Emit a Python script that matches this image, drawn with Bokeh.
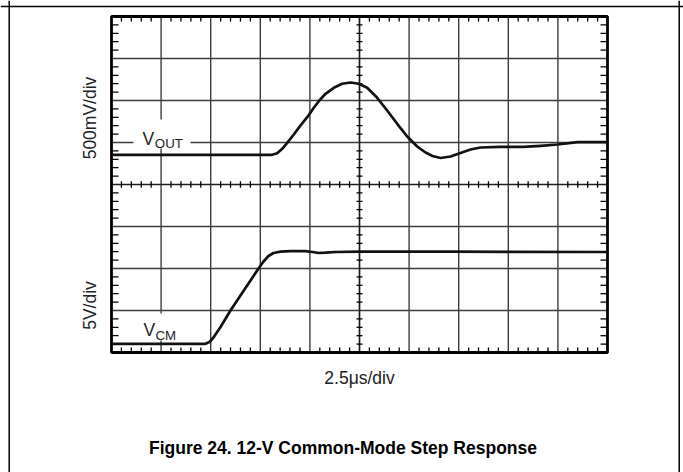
import numpy as np
from bokeh.plotting import figure
from bokeh.models import Range1d
from bokeh.core.properties import value
from bokeh.embed import file_html
from bokeh.resources import INLINE

# ---- data, in graticule divisions (x: 2.5 us/div, 10 div; y: 8 div) ----
vout_t = [0.0, 3.240, 3.341, 3.442, 3.542, 3.675, 3.810, 3.946, 4.079, 4.179,
          4.315, 4.482, 4.651, 4.819, 4.986, 5.155, 5.357, 5.558, 5.760, 5.962,
          6.163, 6.331, 6.472, 6.633, 6.835, 7.036, 7.238, 7.440, 7.843, 8.306,
          8.649, 8.992, 9.395, 10.0]
vout_v = [4.707, 4.707, 4.745, 4.850, 4.993, 5.190, 5.405, 5.602, 5.826, 5.983,
          6.160, 6.302, 6.398, 6.429, 6.398, 6.302, 6.064, 5.762, 5.445, 5.143,
          4.905, 4.762, 4.679, 4.631, 4.667, 4.750, 4.833, 4.881, 4.898, 4.898,
          4.921, 4.952, 5.007, 5.007]

vcm_t = [0.0, 1.895, 1.976, 2.056, 2.198, 2.399, 2.540, 2.681, 2.823, 2.964,
         3.065, 3.165, 3.266, 3.407, 3.609, 3.911, 4.052, 4.173, 4.315, 4.516,
         5.020, 6.835, 10.0]
vcm_v = [0.207, 0.207, 0.250, 0.357, 0.607, 1.000, 1.250, 1.500, 1.750, 2.000,
         2.167, 2.298, 2.369, 2.400, 2.412, 2.412, 2.393, 2.369, 2.376, 2.393,
         2.400, 2.400, 2.393]

x_divs = list(range(0, 11))
y_divs = list(range(0, 9))
minor_per_div = 5

label_top = "500mV/div"
label_bottom = "5V/div"
label_x = "2.5\u03bcs/div"
title_text = "Figure 24. 12-V Common-Mode Step Response"

# ---- layout (canvas pixels) ----
W, H = 683, 472
GX0, GX1 = 111.0, 607.0
GY0, GY1 = 16.0, 352.0
NX, NY = x_divs[-1], y_divs[-1]
sx = (GX1 - GX0) / NX
sy = (GY1 - GY0) / NY


def X(px):
    return (px - GX0) / sx


def Y(py):
    return NY - (py - GY0) / sy


p = figure(width=W, height=H, output_backend="svg", toolbar_location=None,
           x_range=Range1d(X(0), X(W)), y_range=Range1d(Y(H), Y(0)),
           x_axis_location=None, y_axis_location=None, min_border=0)
p.grid.visible = False
p.outline_line_color = None
p.background_fill_color = "white"
p.border_fill_color = "white"

FONT = value("Liberation Sans")

# page frame lines
p.segment(x0=[X(8.7), X(678.7), X(0)], y0=[Y(0), Y(0), Y(6)],
          x1=[X(8.7), X(678.7), X(W)], y1=[Y(H), Y(H), Y(6)],
          line_color="black", line_width=1.5)

# grid lines
inner_x = [v for v in x_divs[1:-1] if v != NX / 2]
inner_y = [v for v in y_divs[1:-1] if v != NY / 2]
p.segment(x0=inner_x, y0=[0] * len(inner_x), x1=inner_x, y1=[NY] * len(inner_x),
          line_color="#3c3c3c", line_width=1.4)
p.segment(x0=[0] * len(inner_y), y0=inner_y, x1=[NX] * len(inner_y), y1=inner_y,
          line_color="#3c3c3c", line_width=1.4)
# centre lines
p.segment(x0=[NX / 2, 0], y0=[0, NY / 2], x1=[NX / 2, NX], y1=[NY, NY / 2],
          line_color="#1e1e1e", line_width=1.7)

# white boxes behind trace labels
p.quad(left=[X(133), X(136)], right=[X(190), X(188)],
       top=[Y(119), Y(313)], bottom=[Y(148), Y(340)],
       fill_color="white", line_color=None)

# minor ticks
mx = [i / minor_per_div for i in range(NX * minor_per_div + 1) if i % minor_per_div]
my = [i / minor_per_div for i in range(NY * minor_per_div + 1) if i % minor_per_div]
tl_h = 5.0 / sy   # tick length on top/bottom edges
tl_v = 7.0 / sx   # tick length on left/right edges
c_h = 3.2 / sy
c_v = 3.0 / sx
tx0, ty0, tx1, ty1 = [], [], [], []
for v in mx:
    tx0 += [v, v, v]; tx1 += [v, v, v]
    ty0 += [NY, 0, NY / 2 - c_h]; ty1 += [NY - tl_h, tl_h, NY / 2 + c_h]
for v in my:
    ty0 += [v, v, v]; ty1 += [v, v, v]
    tx0 += [0, NX, NX / 2 - c_v]; tx1 += [tl_v, NX - tl_v, NX / 2 + c_v]
p.segment(x0=tx0, y0=ty0, x1=tx1, y1=ty1, line_color="black", line_width=1.3)

# border of graticule
p.quad(left=[0], right=[NX], bottom=[0], top=[NY], fill_color=None,
       line_color="black", line_width=2.8)

# traces
p.line(vout_t, vout_v, line_color="#111111", line_width=2.7, line_join="round")
p.line(vcm_t, vcm_v, line_color="#111111", line_width=2.7, line_join="round")

# trace labels
p.text(x=[X(142), X(143)], y=[Y(138), Y(329.3)], text=["V", "V"],
       text_font=FONT, text_font_size="17.5px", text_color="#222222",
       text_align="left", text_baseline="alphabetic")
p.text(x=[X(154.3), X(155)], y=[Y(143), Y(335)], text=["OUT", "CM"],
       text_font=FONT, text_font_size="13.3px", text_color="#222222",
       text_align="left", text_baseline="alphabetic")

# axis-style labels
p.text(x=[X(89.5), X(89.5)], y=[Y(117.5), Y(305)], text=[label_top, label_bottom],
       angle=np.pi / 2, text_font=FONT, text_font_size="17.5px",
       text_color="#222222", text_align="center", text_baseline="middle")
p.text(x=[NX / 2], y=[Y(377)], text=[label_x], text_font=FONT,
       text_font_size="17.5px", text_color="#222222",
       text_align="center", text_baseline="middle")
p.text(x=[X(342.5)], y=[Y(447.5)], text=[title_text], text_font=FONT,
       text_font_size="17.5px", text_font_style="bold", text_color="black",
       text_align="center", text_baseline="middle")

open("out.html", "w").write(file_html(p, INLINE))
